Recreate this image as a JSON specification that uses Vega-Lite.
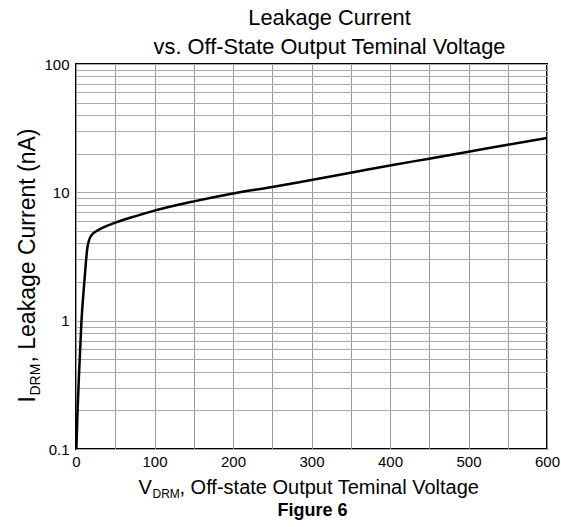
{
  "$schema": "https://vega.github.io/schema/vega-lite/v6.json",
  "width": 471,
  "height": 385,
  "autosize": {"type": "none"},
  "padding": {"left": 76, "top": 64, "right": 14, "bottom": 78},
  "background": "white",
  "title": {
    "text": ["Leakage Current", "vs. Off-State Output Teminal Voltage"],
    "font": "Liberation Sans",
    "fontSize": 21.8,
    "fontWeight": "normal",
    "color": "black",
    "anchor": "middle",
    "frame": "group",
    "dx": 18,
    "dy": 28,
    "baseline": "bottom",
    "offset": 4,
    "lineHeight": 29
  },
  "config": {
    "font": "Liberation Sans",
    "view": {"stroke": "black", "strokeWidth": 2},
    "axis": {
      "labelColor": "black",
      "titleColor": "black",
      "titleFontWeight": "normal",
      "ticks": false,
      "domain": false,
      "labelOverlap": false,
      "labelFlush": false
    }
  },
  "data": {
    "values": [
      {"v": 0.5, "i": 0.1},
      {"v": 2, "i": 0.2},
      {"v": 4, "i": 0.4},
      {"v": 7, "i": 1.0},
      {"v": 10, "i": 1.8},
      {"v": 12.5, "i": 2.8},
      {"v": 14.5, "i": 3.7},
      {"v": 16.5, "i": 4.2},
      {"v": 19, "i": 4.55},
      {"v": 23, "i": 4.85},
      {"v": 30, "i": 5.15},
      {"v": 40, "i": 5.5},
      {"v": 50, "i": 5.8},
      {"v": 75, "i": 6.5},
      {"v": 100, "i": 7.2},
      {"v": 150, "i": 8.5},
      {"v": 200, "i": 9.8},
      {"v": 250, "i": 11.0},
      {"v": 300, "i": 12.5},
      {"v": 350, "i": 14.2},
      {"v": 400, "i": 16.2},
      {"v": 450, "i": 18.3},
      {"v": 500, "i": 20.7},
      {"v": 550, "i": 23.5},
      {"v": 600, "i": 26.5}
    ]
  },
  "layer": [
    {
      "mark": {"type": "line", "color": "black", "strokeWidth": 2.5, "interpolate": "monotone"},
      "encoding": {
        "x": {
          "field": "v", "type": "quantitative",
          "scale": {"domain": [0, 600], "nice": false, "zero": false},
          "axis": {
            "orient": "bottom",
            "values": [0, 50, 100, 150, 200, 250, 300, 350, 400, 450, 500, 550, 600],
            "format": "d",
            "labelExpr": "datum.value % 100 === 0 ? datum.label : ''",
            "labelFontSize": 15,
            "labelPadding": 5,
            "grid": true,
            "gridColor": "#999999",
            "gridWidth": 1,
            "title": ", Off-state Output Teminal Voltage",
            "titleFontSize": 20,
            "titleAlign": "left",
            "titleAnchor": "start",
            "titleBaseline": "alphabetic",
            "titleX": 103,
            "titleY": 44
          }
        },
        "y": {
          "field": "i", "type": "quantitative",
          "scale": {"type": "log", "domain": [0.1, 100], "nice": false},
          "axis": {
            "orient": "left",
            "values": [0.1, 0.2, 0.3, 0.4, 0.5, 0.6, 0.7, 0.8, 0.9, 1, 2, 3, 4, 5, 6, 7, 8, 9, 10, 20, 30, 40, 50, 60, 70, 80, 90, 100],
            "format": "~g",
            "labelExpr": "indexof([0.1, 1, 10, 100], datum.value) >= 0 ? datum.label : ''",
            "labelFontSize": 15,
            "labelPadding": 7,
            "grid": true,
            "gridColor": "#aaaaaa",
            "gridWidth": 1,
            "title": ", Leakage Current (nA)",
            "titleFontSize": 23,
            "titleAngle": -90,
            "titleAlign": "left",
            "titleAnchor": "start",
            "titleBaseline": "alphabetic",
            "titleX": -42,
            "titleY": 298
          }
        }
      }
    },
    {
      "mark": {"type": "line", "opacity": 0},
      "encoding": {
        "x": {
          "field": "v", "type": "quantitative",
          "axis": {
            "orient": "bottom", "labels": false, "grid": false,
            "title": "V", "titleFontSize": 20, "titleAlign": "left", "titleAnchor": "start",
            "titleBaseline": "alphabetic", "titleX": 62, "titleY": 44
          }
        },
        "y": {
          "field": "i", "type": "quantitative",
          "axis": {
            "orient": "left", "labels": false, "grid": false,
            "title": "I", "titleFontSize": 23, "titleAngle": -90, "titleAlign": "left", "titleAnchor": "start",
            "titleBaseline": "alphabetic", "titleX": -42, "titleY": 338
          }
        }
      }
    },
    {
      "mark": {"type": "line", "opacity": 0},
      "encoding": {
        "x": {
          "field": "v", "type": "quantitative",
          "axis": {
            "orient": "bottom", "labels": false, "grid": false,
            "title": "DRM", "titleFontSize": 12, "titleAlign": "left", "titleAnchor": "start",
            "titleBaseline": "alphabetic", "titleX": 76, "titleY": 48
          }
        },
        "y": {
          "field": "i", "type": "quantitative",
          "axis": {
            "orient": "left", "labels": false, "grid": false,
            "title": "DRM", "titleFontSize": 14, "titleAngle": -90, "titleAlign": "left", "titleAnchor": "start",
            "titleBaseline": "alphabetic", "titleX": -37, "titleY": 331
          }
        }
      }
    },
    {
      "mark": {"type": "line", "opacity": 0},
      "encoding": {
        "x": {
          "field": "v", "type": "quantitative",
          "axis": {
            "orient": "bottom", "labels": false, "grid": false,
            "title": "Figure 6", "titleFontSize": 18, "titleFontWeight": "bold", "titleAlign": "center", "titleAnchor": "middle",
            "titleBaseline": "alphabetic", "titleX": 236, "titleY": 66
          }
        },
        "y": {"field": "i", "type": "quantitative", "axis": null}
      }
    }
  ],
  "resolve": {"axis": {"x": "independent", "y": "independent"}}
}
